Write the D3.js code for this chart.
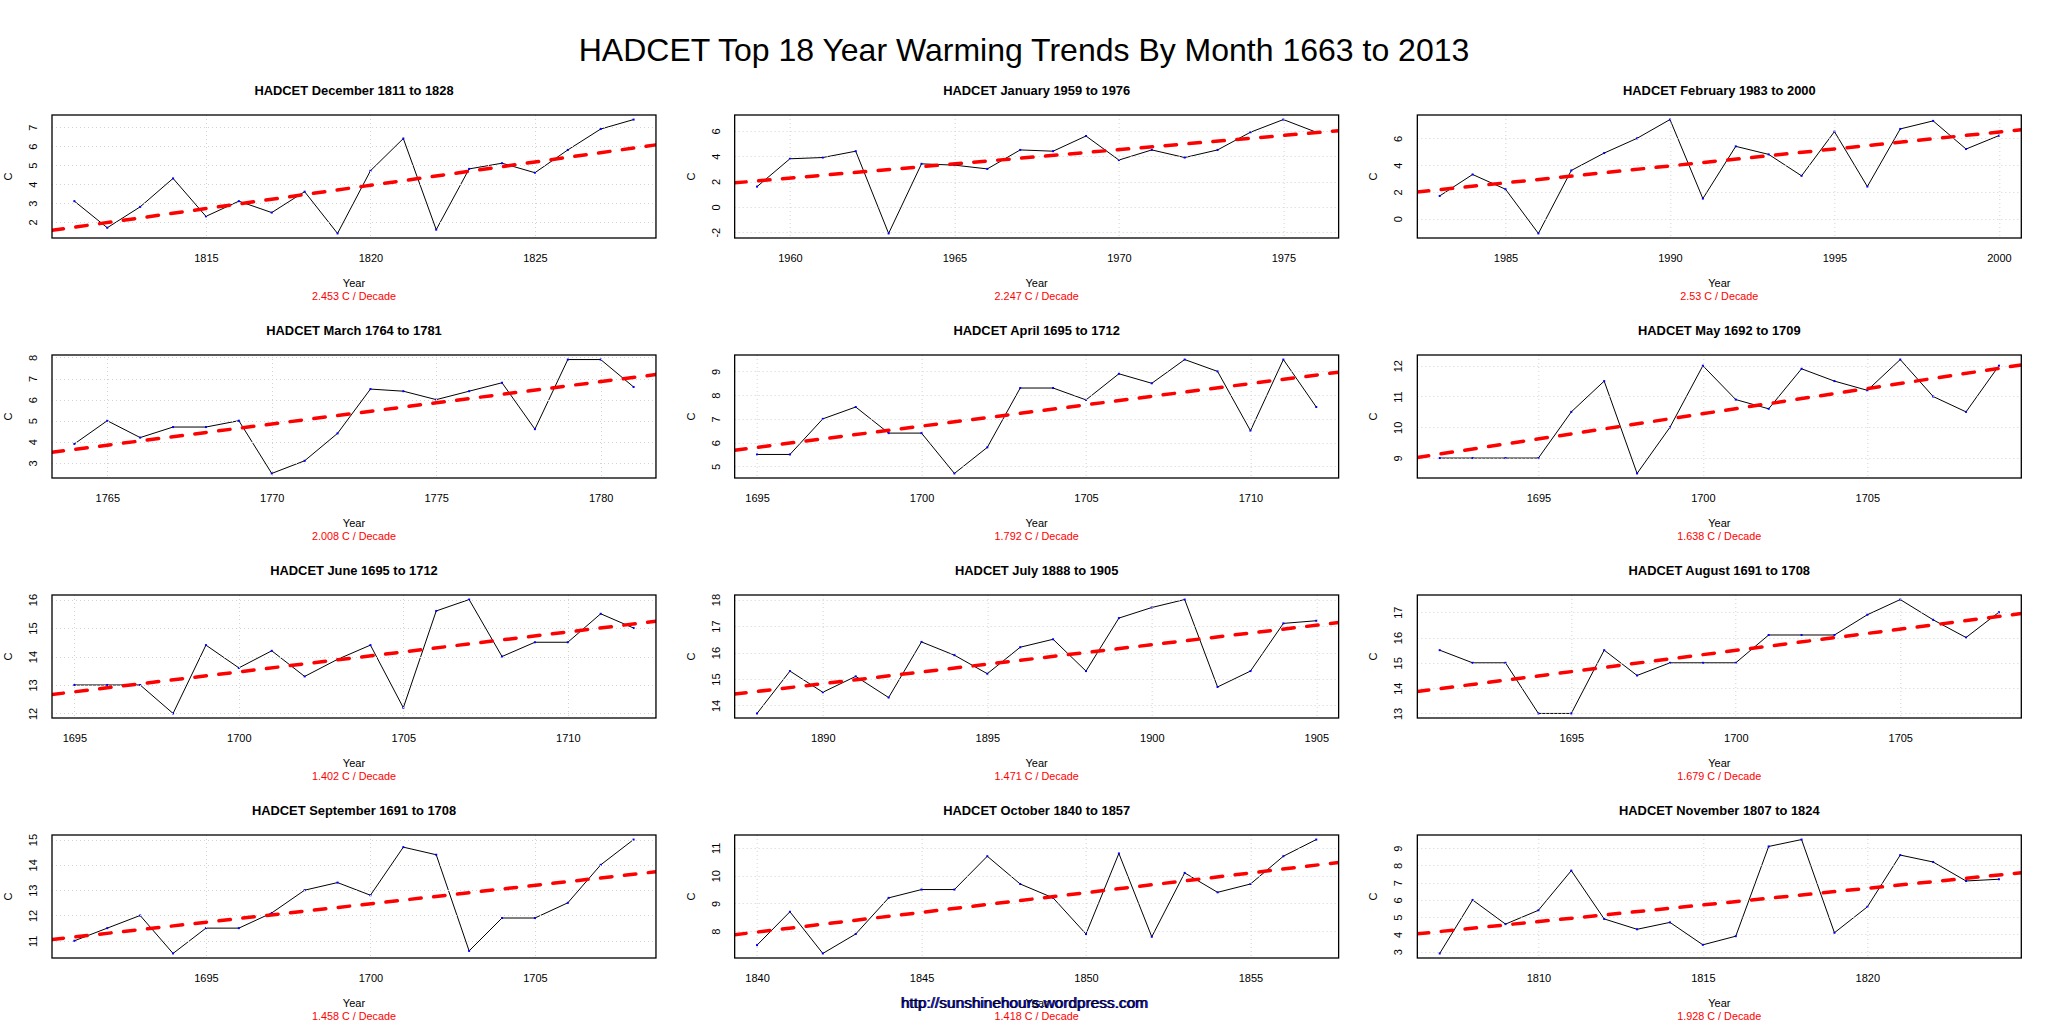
<!DOCTYPE html>
<html><head><meta charset="utf-8">
<script src="https://cdn.jsdelivr.net/npm/d3@7"></script>
<style>
html,body{margin:0;padding:0;background:#fff;overflow:hidden;}
svg{display:block;}
text{font-family:"Liberation Sans",Arial,Helvetica,sans-serif;}
</style></head><body>
<svg id="chart" width="2048" height="1023"></svg>
<script>
const mainTitle = "HADCET Top 18 Year Warming Trends By Month 1663 to 2013";
const watermark = "http://sunshinehours.wordpress.com";
const months = ["December","January","February","March","April","May","June","July","August","September","October","November"];
const startYears = [1811,1959,1983,1764,1695,1692,1695,1888,1691,1691,1840,1807];
const decadeTrends = [2.453,2.247,2.53,2.008,1.792,1.638,1.402,1.471,1.679,1.458,1.418,1.928];
const decadeLabels = ["2.453","2.247","2.53","2.008","1.792","1.638","1.402","1.471","1.679","1.458","1.418","1.928"];
const trendStartValues = [1.73,2.05,2.17,3.64,5.80,9.13,12.76,14.53,13.98,11.15,7.97,4.17];

const decTemps = [3.1,1.7,2.8,4.3,2.3,3.1,2.5,3.6,1.4,4.7,6.4,1.6,4.8,5.1,4.6,5.8,6.9,7.4];
const janTemps = [1.6,3.8,3.9,4.4,-2.1,3.4,3.3,3.0,4.5,4.4,5.6,3.7,4.5,3.9,4.5,5.9,6.9,5.9];
const febTemps = [1.7,3.3,2.2,-1.1,3.6,4.9,6.0,7.4,1.5,5.4,4.8,3.2,6.5,2.4,6.7,7.3,5.2,6.2];
const marTemps = [3.9,5.0,4.2,4.7,4.7,5.0,2.5,3.1,4.4,6.5,6.4,6.0,6.4,6.8,4.6,7.9,7.9,6.6];
const aprTemps = [5.5,5.5,7.0,7.5,6.4,6.4,4.7,5.8,8.3,8.3,7.8,8.9,8.5,9.5,9.0,6.5,9.5,7.5];
const mayTemps = [9.0,9.0,9.0,9.0,10.5,11.5,8.5,10.0,12.0,10.9,10.6,11.9,11.5,11.2,12.2,11.0,10.5,12.0];
const junTemps = [13.0,13.0,13.0,12.0,14.4,13.6,14.2,13.3,13.9,14.4,12.2,15.6,16.0,14.0,14.5,14.5,15.5,15.0];
const julTemps = [13.7,15.3,14.5,15.1,14.3,16.4,15.9,15.2,16.2,16.5,15.3,17.3,17.7,18.0,14.7,15.3,17.1,17.2];
const augTemps = [15.5,15.0,15.0,13.0,13.0,15.5,14.5,15.0,15.0,15.0,16.1,16.1,16.1,16.9,17.5,16.7,16.0,17.0];
const sepTemps = [11.0,11.5,12.0,10.5,11.5,11.5,12.1,13.0,13.3,12.8,14.7,14.4,10.6,11.9,11.9,12.5,14.0,15.0];
const octTemps = [7.5,8.7,7.2,7.9,9.2,9.5,9.5,10.7,9.7,9.2,7.9,10.8,7.8,10.1,9.4,9.7,10.7,11.3];
const novTemps = [2.9,6.0,4.6,5.4,7.7,4.9,4.3,4.7,3.4,3.9,9.1,9.5,4.1,5.6,8.6,8.2,7.1,7.2];
const monthTemps = [decTemps,janTemps,febTemps,marTemps,aprTemps,mayTemps,junTemps,julTemps,augTemps,sepTemps,octTemps,novTemps];

const xTickSets = [[1815,1820,1825],[1960,1965,1970,1975],[1985,1990,1995,2000],[1765,1770,1775,1780],
  [1695,1700,1705,1710],[1695,1700,1705],[1695,1700,1705,1710],[1890,1895,1900,1905],
  [1695,1700,1705],[1695,1700,1705],[1840,1845,1850,1855],[1810,1815,1820]];
const yTickSets = [[2,3,4,5,6,7],[-2,0,2,4,6],[0,2,4,6],[3,4,5,6,7,8],[5,6,7,8,9],[9,10,11,12],
  [12,13,14,15,16],[14,15,16,17,18],[13,14,15,16,17],[11,12,13,14,15],[8,9,10,11],[3,4,5,6,7,8,9]];

const svg = d3.select("#chart");
const W = 2048, H = 1023;
svg.append("rect").attr("width", W).attr("height", H).attr("fill", "#fff");

svg.append("text").attr("x", 1024).attr("y", 61).attr("text-anchor", "middle")
  .attr("font-size", 32).attr("fill", "#000").text(mainTitle);

const cellW = W / 3, cellH = 240, topOffset = 63;
const mL = 52, mR = 26.7, mT = 52, mB = 65;
const pw = cellW - mL - mR, ph = cellH - mT - mB;

months.forEach((m, i) => {
  const col = i % 3, row = Math.floor(i / 3);
  const cx = col * cellW, cy = topOffset + row * cellH;
  const g = svg.append("g").attr("transform", `translate(${cx + mL},${cy + mT})`);
  const temps = monthTemps[i];
  const years = temps.map((_, k) => startYears[i] + k);
  const x0 = years[0], x1 = years[years.length - 1];
  const xpad = (x1 - x0) * 0.04;
  const [tmin, tmax] = d3.extent(temps);
  const ypad = (tmax - tmin) * 0.04;
  const x = d3.scaleLinear().domain([x0 - xpad, x1 + xpad]).range([0, pw]);
  const y = d3.scaleLinear().domain([tmin - ypad, tmax + ypad]).range([ph, 0]);
  const clipId = "clip" + i;
  g.append("clipPath").attr("id", clipId).append("rect").attr("width", pw).attr("height", ph);

  // panel title
  svg.append("text").attr("x", cx + mL + pw / 2).attr("y", cy + 32.3).attr("text-anchor", "middle")
    .attr("font-size", 12.9).attr("font-weight", "bold").attr("fill", "#000")
    .text(`HADCET ${m} ${x0} to ${x1}`);

  // data line
  const pts = years.map((yr, k) => [yr, temps[k]]);
  g.append("path").datum(pts).attr("fill", "none").attr("stroke", "#000").attr("stroke-width", 1)
    .attr("d", d3.line().x(d => x(d[0])).y(d => y(d[1])));
  g.selectAll("rect.pt").data(pts).enter().append("rect").attr("class", "pt")
    .attr("x", d => x(d[0]) - 1).attr("y", d => y(d[1]) - 1).attr("width", 2).attr("height", 2)
    .attr("fill", "#0000ff");

  // grid
  const gridG = g.append("g").attr("stroke", "#d3d3d3").attr("stroke-width", 1).attr("stroke-dasharray", "1 3");
  xTickSets[i].forEach(t => gridG.append("line").attr("x1", Math.round(x(t)) + 0.5).attr("x2", Math.round(x(t)) + 0.5).attr("y1", 0).attr("y2", ph));
  yTickSets[i].forEach(t => gridG.append("line").attr("y1", Math.round(y(t)) + 0.5).attr("y2", Math.round(y(t)) + 0.5).attr("x1", 0).attr("x2", pw));

  // trend line
  const slope = decadeTrends[i] / 10;
  const xa = x0 - xpad, xb = x1 + xpad;
  const trend = [[xa, trendStartValues[i] + slope * (xa - x0)], [xb, trendStartValues[i] + slope * (xb - x0)]];
  g.append("path").datum(trend).attr("clip-path", `url(#${clipId})`).attr("fill", "none")
    .attr("stroke", "#ff0000").attr("stroke-width", 3.5).attr("stroke-dasharray", "11.5 12.5")
    .attr("stroke-linecap", "round")
    .attr("d", d3.line().x(d => x(d[0])).y(d => y(d[1])));

  // box
  g.append("rect").attr("x", 0).attr("y", 0).attr("width", pw).attr("height", ph)
    .attr("fill", "none").attr("stroke", "#000").attr("stroke-width", 1.3);

  // x axis labels
  const xAxis = d3.axisBottom(x).tickValues(xTickSets[i]).tickSize(0).tickPadding(0).tickFormat(d3.format("d"));
  const xg = g.append("g").attr("transform", `translate(0,${ph})`).call(xAxis);
  xg.select(".domain").remove();
  xg.selectAll("text").attr("y", 24).attr("dy", null).attr("font-size", 11)
    .attr("font-family", '"Liberation Sans",Arial,sans-serif').attr("fill", "#000");

  // y axis labels (rotated)
  const yAxis = d3.axisLeft(y).tickValues(yTickSets[i]).tickSize(0).tickPadding(0).tickFormat(d => d < 0 ? "-" + Math.abs(d) : String(d));
  const yg = g.append("g").call(yAxis);
  yg.select(".domain").remove();
  yg.selectAll(".tick text").attr("x", null).attr("dy", null)
    .attr("transform", "translate(-19,0) rotate(-90)")
    .attr("text-anchor", "middle").attr("dominant-baseline", "central")
    .attr("font-size", 11).attr("font-family", '"Liberation Sans",Arial,sans-serif').attr("fill", "#000");

  // axis titles
  g.append("text").attr("x", pw / 2).attr("y", ph + 49).attr("text-anchor", "middle")
    .attr("font-size", 11).attr("fill", "#000").text("Year");
  g.append("text").attr("x", pw / 2).attr("y", ph + 62.4).attr("text-anchor", "middle")
    .attr("font-size", 10.8).attr("fill", "#ff0000").text(`${decadeLabels[i]} C / Decade`);
  g.append("text").attr("transform", `translate(-44,${ph / 2}) rotate(-90)`).attr("text-anchor", "middle")
    .attr("dominant-baseline", "central").attr("font-size", 11).attr("fill", "#000").text("C");
});

svg.append("text").attr("x", 1025).attr("y", 1008).attr("text-anchor", "middle")
  .attr("font-size", 15.4).attr("fill", "#0000ff").text(watermark);
svg.append("text").attr("x", 1024).attr("y", 1008).attr("text-anchor", "middle")
  .attr("font-size", 15.4).attr("fill", "#000").text(watermark);
</script>
</body></html>
